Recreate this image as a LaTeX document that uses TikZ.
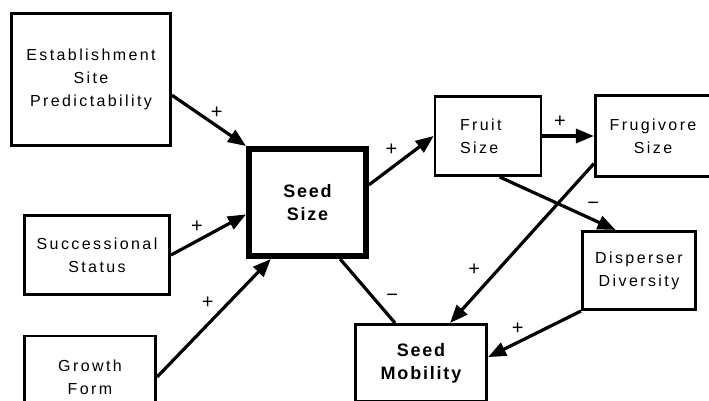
\documentclass[tikz,border=0pt]{standalone}
\usepackage{fontspec}
\setmainfont{Liberation Sans}[LetterSpace=15]
\newfontfamily\keyfont{Liberation Sans}[LetterSpace=10]
\newfontfamily\signfont{Liberation Sans}
\usepackage{tikz}
\usetikzlibrary{arrows.meta}

\begin{document}
\begin{tikzpicture}[x=1pt,y=-1pt,
    box/.style={draw,line width=2.6pt,inner sep=0pt,align=center,font=\fontsize{16}{23}\selectfont},
    keybox/.style={box,font=\keyfont\bfseries\fontsize{18}{23}\selectfont},
    sgn/.style={inner sep=0pt,font=\signfont\fontsize{20}{20}\selectfont},
    arr/.style={-{Triangle[length=18pt,width=14pt]},line width=3.2pt}]
                \useasboundingbox (0,0) rectangle (709,401);
                \clip (0,0) rectangle (709,401);

                \node[box,minimum width=159.5pt,minimum height=132.5pt] (estab) at (91,79.5) {Establishment\\Site\\Predictability};
                \node[box,minimum width=145.5pt,minimum height=79.5pt] (succ) at (97,255) {Successional\\Status};
                \node[box,minimum width=131.5pt,minimum height=82pt] (growth) at (90,377) {Growth\\Form};
                \node[keybox,line width=6pt,minimum width=117pt,minimum height=107pt] (seedsize) at (307.5,202.5) {Seed\\Size};
                \node[box,minimum width=105.5pt,minimum height=79.5pt,text width=56pt,inner xsep=25pt,align=left] (fruit) at (488,136) {Fruit\\Size};
                \node[box,minimum width=115.5pt,minimum height=81.5pt] (frugi) at (653,136) {Frugivore\\Size};
                \node[box,minimum width=113.5pt,minimum height=78.5pt] (disp) at (639,270.5) {Disperser\\Diversity};
                \node[keybox,minimum width=131.5pt,minimum height=77.5pt] (mob) at (421,363) {Seed\\Mobility};

                \path[arr] (estab.-11) edge node[sgn,pos=.52,shift={(6.1,-8.5)}] {+} (seedsize.north west)
                (succ.east) edge node[sgn,pos=.425,shift={(-5.9,-11)}] {+} (seedsize.191)
                (growth.east) edge node[sgn,pos=.54,shift={(-10.7,-10.5)}] {+} (seedsize.237)
                (seedsize.16) edge node[sgn,pos=.48,shift={(-8.5,-11.6)}] {+} (fruit.west)
                (fruit.east) edge node[sgn,pos=.34,shift={(0,-14)}] {+} (frugi.west)
                (fruit.-74) edge node[sgn,pos=.76,shift={(5.4,-11.8)}] {−} (disp.120)
                (frugi.205) edge node[sgn,pos=.74,shift={(-13.2,-11.9)}] {+} (mob.54)
                (disp.south west) edge node[sgn,pos=.62,shift={(-5.6,-11.2)}] {+} (mob.5);
                \draw[line width=3.2pt] (seedsize.-60) -- node[sgn,pos=.75,shift={(10.9,-8.8)}] {−} (mob.123);
            \end{tikzpicture}
\end{document}
